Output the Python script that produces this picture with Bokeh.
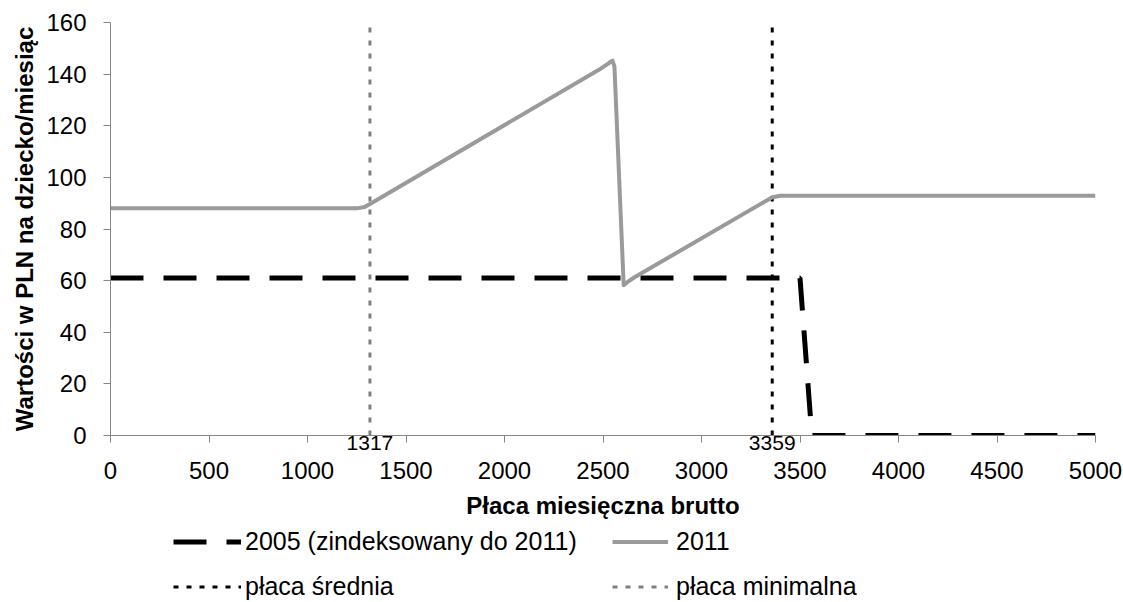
from bokeh.plotting import figure
from bokeh.models import Range1d, FixedTicker, Legend, LegendItem, LinearAxis
from bokeh.layouts import column
from bokeh.embed import file_html
from bokeh.resources import INLINE

# ---- data ----
x_2005 = [0, 3500, 3560, 5000]
y_2005 = [61, 61, 0, 0]

x_2011 = [0, 1250, 1290, 1330, 2490, 2530, 2548, 2558, 2605, 2625, 2660, 3359, 3400, 5000]
y_2011 = [88, 88, 88.5, 90.3, 142.2, 144.3, 145.2, 143, 58.2, 59.5, 61.3, 92.3, 92.9, 92.9]

min_wage = 1317   # płaca minimalna
avg_wage = 3359   # płaca średnia

x_ticks = [0, 500, 1000, 1500, 2000, 2500, 3000, 3500, 4000, 4500, 5000]
y_ticks = [0, 20, 40, 60, 80, 100, 120, 140, 160]
x_max = 5000
y_max = 160

legend_labels = ["2005 (zindeksowany do 2011)", "2011", "płaca średnia", "płaca minimalna"]

FONT = "Liberation Sans"
AXIS_GRAY = "#868686"

# styles
S_2005 = dict(line_color="black", line_width=5, line_dash="33 20")
S_2011 = dict(line_color="#9a9a9a", line_width=4, line_join="round")
S_AVG = dict(line_color="black", line_width=3, line_dash="5 8")
S_MIN = dict(line_color="#808080", line_width=3, line_dash="5 8")


def draw_series(fig, visible=True):
    r_min = fig.line([min_wage, min_wage], [0, y_max], visible=visible, **S_MIN)
    r_avg = fig.line([avg_wage, avg_wage], [0, y_max], visible=visible, **S_AVG)
    r05 = fig.line(x_2005, y_2005, visible=visible, **S_2005)
    r11 = fig.line(x_2011, y_2011, visible=visible, **S_2011)
    return [r05, r11, r_avg, r_min]


p = figure(width=1123, height=528, output_backend="svg", toolbar_location=None,
           x_range=Range1d(0, x_max), y_range=Range1d(0, y_max), x_axis_location=None,
           min_border_left=110, min_border_right=28, min_border_top=22, min_border_bottom=93)
p.outline_line_color = None
p.grid.visible = False
p.background_fill_color = "white"

# y axis
ya = p.yaxis[0]
ya.ticker = FixedTicker(ticks=y_ticks)
ya.axis_line_color = AXIS_GRAY
ya.major_tick_line_color = AXIS_GRAY
ya.major_tick_out = 7
ya.major_tick_in = 0
ya.minor_tick_line_color = None
ya.major_label_text_font = FONT
ya.major_label_text_font_size = "24px"
ya.major_label_text_color = "black"
ya.major_label_standoff = 17
ya.axis_label = "Wartości w PLN na dziecko/miesiąc"
ya.axis_label_text_font = FONT
ya.axis_label_text_font_size = "24px"
ya.axis_label_text_font_style = "bold"
ya.axis_label_text_color = "black"
ya.axis_label_standoff = 5

# x axis A: axis line, tick marks, and the wage markers' labels
xa = LinearAxis(ticker=FixedTicker(ticks=[min_wage, avg_wage], minor_ticks=x_ticks))
xa.axis_line_color = AXIS_GRAY
xa.major_tick_out = 0
xa.major_tick_in = 0
xa.major_tick_line_color = None
xa.minor_tick_out = 7
xa.minor_tick_in = 0
xa.minor_tick_line_color = AXIS_GRAY
xa.major_label_text_font = FONT
xa.major_label_text_font_size = "21px"
xa.major_label_text_color = "black"
xa.major_label_standoff = -7
p.add_layout(xa, "below")

# x axis B: the main tick labels and the title
xb = LinearAxis(ticker=FixedTicker(ticks=x_ticks))
xb.axis_line_color = None
xb.major_tick_out = 0
xb.major_tick_in = 0
xb.major_tick_line_color = None
xb.minor_tick_line_color = None
xb.major_label_text_font = FONT
xb.major_label_text_font_size = "24px"
xb.major_label_text_color = "black"
xb.major_label_standoff = 9
xb.axis_label = "Płaca miesięczna brutto"
xb.axis_label_text_font = FONT
xb.axis_label_text_font_size = "24px"
xb.axis_label_text_font_style = "bold"
xb.axis_label_text_color = "black"
xb.axis_label_standoff = 10
p.add_layout(xb, "below")

draw_series(p)

# legend strip: a second figure whose (hidden) renderers supply the legend samples
q = figure(width=1123, height=74, output_backend="svg", toolbar_location=None,
           x_range=Range1d(0, x_max), y_range=Range1d(0, y_max),
           x_axis_location=None, y_axis_location=None,
           min_border_left=0, min_border_right=0, min_border_top=0, min_border_bottom=0)
q.outline_line_color = None
q.grid.visible = False
lr = draw_series(q, visible=False)

LEG_STYLE = dict(orientation="vertical", glyph_height=25, label_height=25,
                 spacing=16, padding=0, margin=0, border_line_color=None,
                 background_fill_alpha=0, inactive_fill_alpha=0, click_policy="none",
                 label_text_font=FONT, label_text_font_size="25px", label_text_color="black")
leg1 = Legend(items=[LegendItem(label=legend_labels[0], renderers=[lr[0]]),
                     LegendItem(label=legend_labels[2], renderers=[lr[2]])],
              location=(63, 1), glyph_width=68, label_standoff=4, **LEG_STYLE)
leg2 = Legend(items=[LegendItem(label=legend_labels[1], renderers=[lr[1]]),
                     LegendItem(label=legend_labels[3], renderers=[lr[3]])],
              location=(502, 1), glyph_width=56, label_standoff=8, **LEG_STYLE)
q.add_layout(leg1, "center")
q.add_layout(leg2, "center")

open("out.html", "w").write(file_html(column(p, q), INLINE))
